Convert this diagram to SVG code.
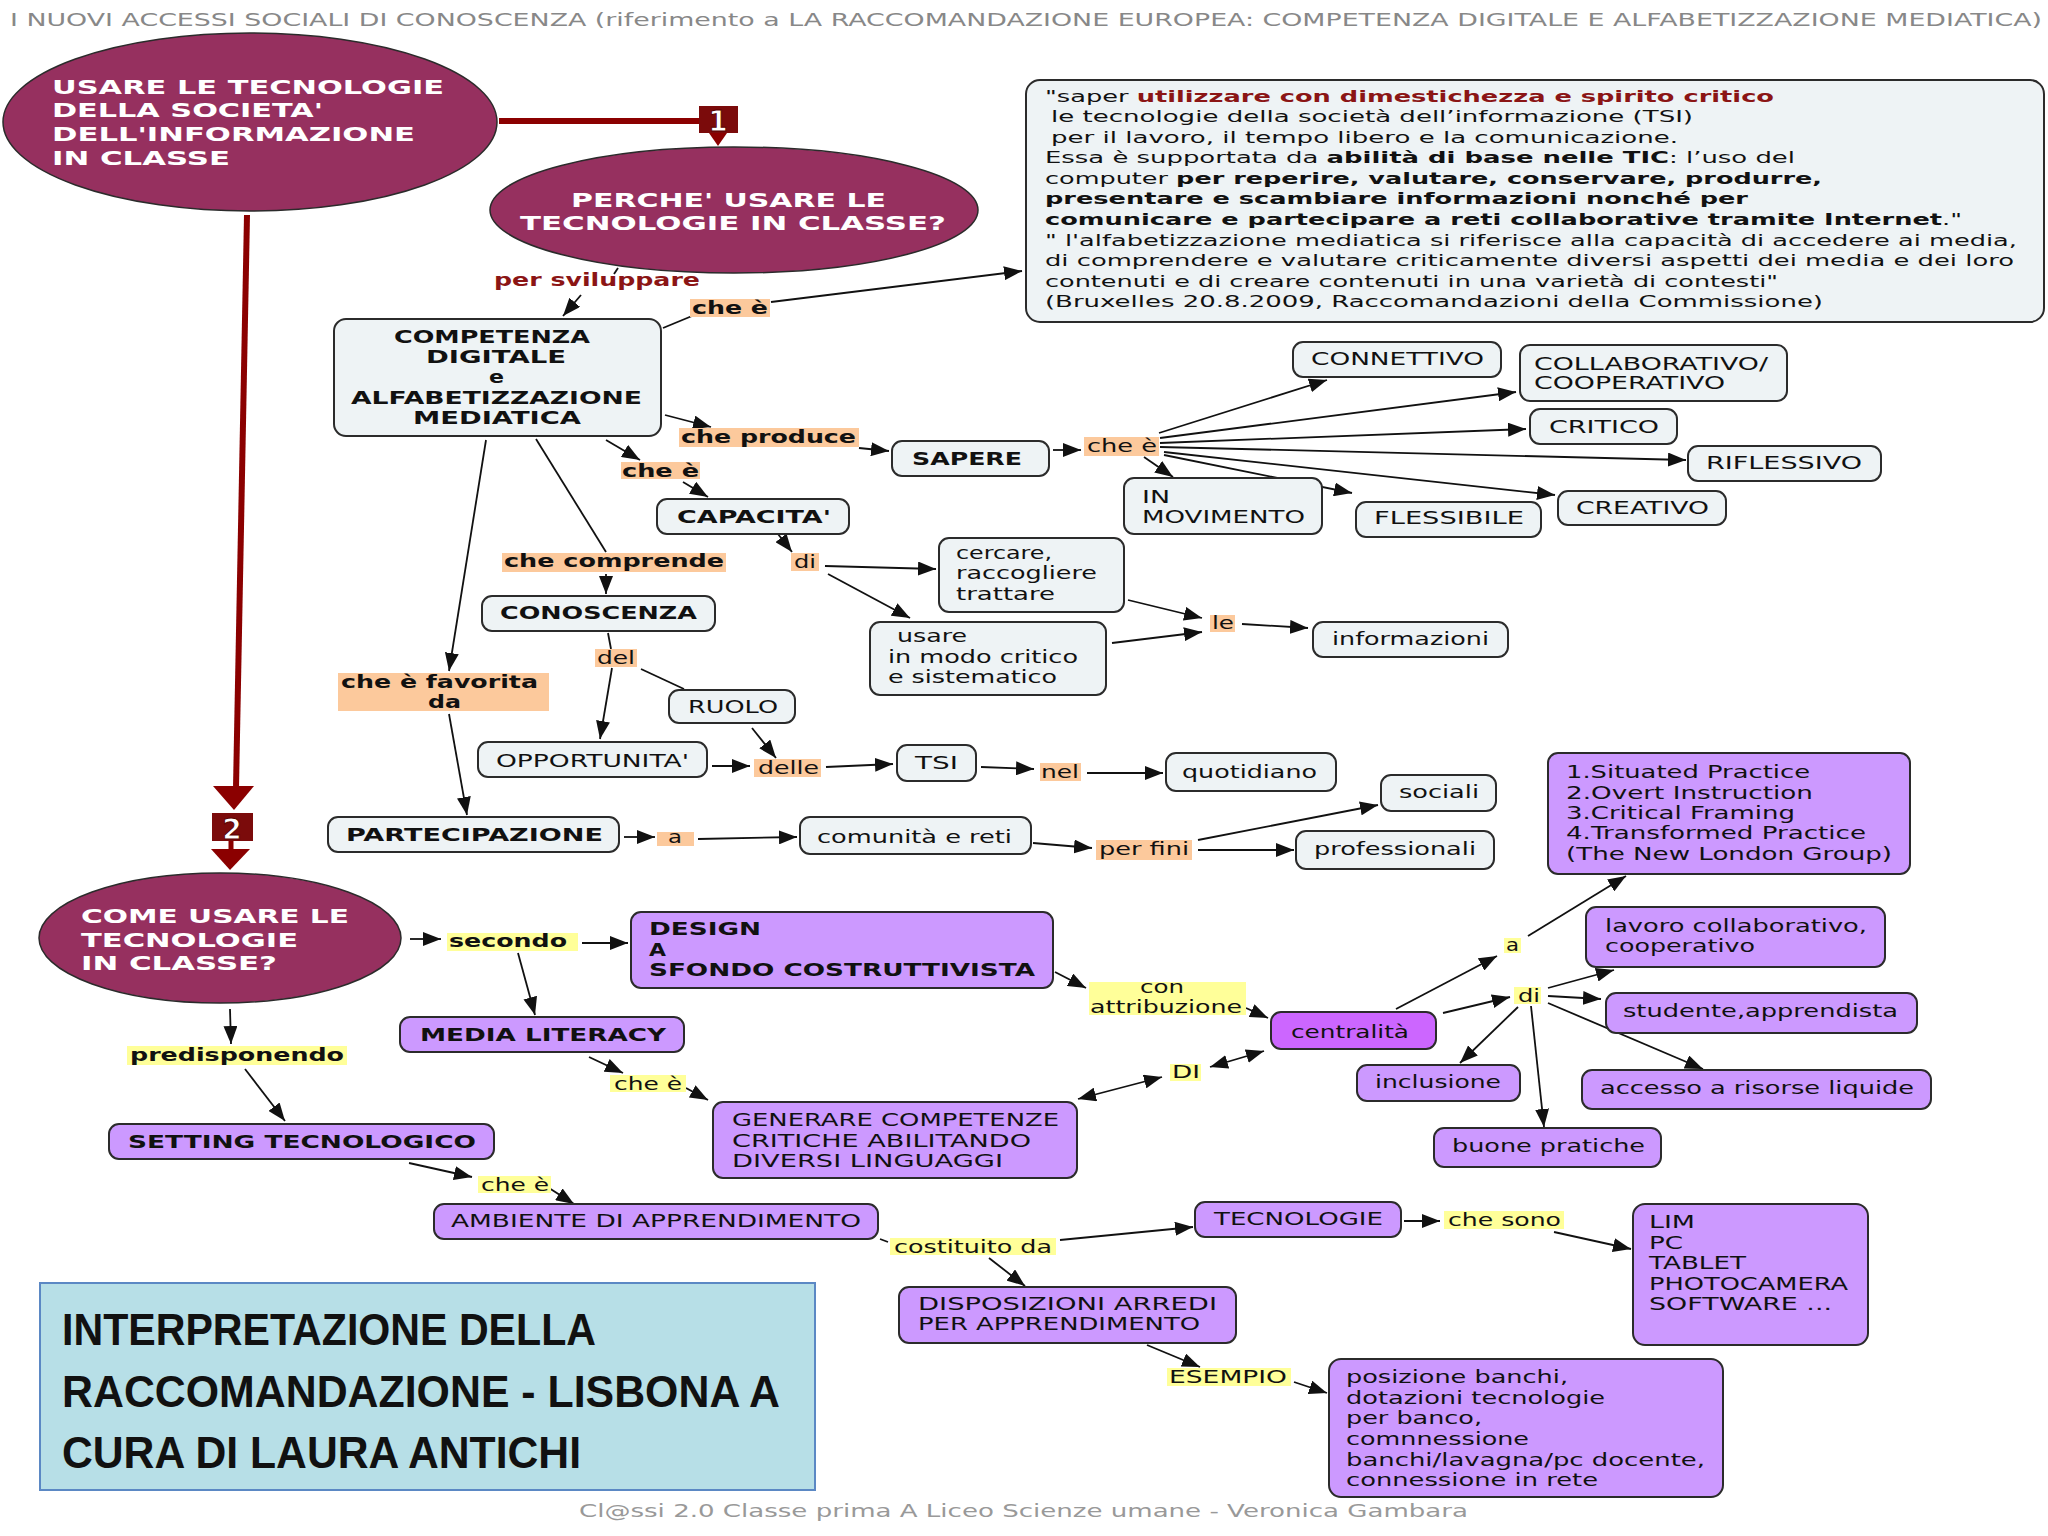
<svg xmlns="http://www.w3.org/2000/svg" width="2048" height="1536" viewBox="0 0 2048 1536">
<style>
text{font-family:"DejaVu Sans",Verdana,sans-serif;font-size:17px;fill:#111}
.b{font-weight:bold}
.w{fill:#fff;font-weight:bold;font-size:20px}
.lt{fill:#eef3f5;stroke:#2b2b2b;stroke-width:2}
.pu{fill:#cc99ff;stroke:#2b2b2b;stroke-width:2}
.pc{fill:#cc66ff;stroke:#2b2b2b;stroke-width:2}
.el{fill:#96305f;stroke:#2b2b2b;stroke-width:1.5}
.or{fill:#fcc99c}
.ye{fill:#ffff99}
.c{stroke:#111;stroke-width:1.8;fill:none;marker-end:url(#ah)}
.d{stroke:#111;stroke-width:1.8;fill:none;marker-end:url(#ah);marker-start:url(#ah)}
.l{stroke:#111;stroke-width:1.8;fill:none}
.red{stroke:#8b0000;stroke-width:6;fill:none}
.q{font-size:16.5px}
</style>
<defs>
<marker id="ah" markerUnits="userSpaceOnUse" markerWidth="18" markerHeight="14" refX="18" refY="7" orient="auto-start-reverse">
<path d="M0,0 L18,7 L0,14 z" fill="#111"/>
</marker>
</defs>
<rect width="2048" height="1536" fill="#fff"/>
<text x="10" y="26" textLength="2032" lengthAdjust="spacingAndGlyphs" style="fill:#888;font-size:17px">I NUOVI ACCESSI SOCIALI DI CONOSCENZA (riferimento a LA RACCOMANDAZIONE EUROPEA: COMPETENZA DIGITALE E ALFABETIZZAZIONE MEDIATICA)</text>

<g id="connectors">
<path class="red" d="M499,121 H702"/>
<polygon points="709,133 727,133 718,146" fill="#8b0000"/>
<path class="red" d="M247,215 L236,788"/>
<polygon points="213,786 254,786 234,810" fill="#8b0000"/>
<path class="red" d="M231,841 V851" style="stroke-width:5"/>
<polygon points="211,849 250,849 230,870" fill="#8b0000"/>
<line class="l" x1="618" y1="268" x2="614" y2="274"/>
<line class="c" x1="581" y1="295" x2="563" y2="316"/>
<line class="l" x1="663" y1="328" x2="692" y2="316"/>
<line class="c" x1="771" y1="302" x2="1022" y2="271"/>
<line class="c" x1="665" y1="415" x2="711" y2="427"/>
<line class="c" x1="859" y1="448" x2="889" y2="451"/>
<line class="c" x1="606" y1="440" x2="640" y2="460"/>
<line class="c" x1="683" y1="482" x2="708" y2="497"/>
<line class="c" x1="778" y1="534" x2="792" y2="552"/>
<line class="c" x1="825" y1="566" x2="936" y2="569"/>
<line class="c" x1="828" y1="574" x2="910" y2="618"/>
<line class="c" x1="1128" y1="600" x2="1202" y2="618"/>
<line class="c" x1="1112" y1="643" x2="1202" y2="632"/>
<line class="c" x1="1242" y1="624" x2="1308" y2="628"/>
<line class="c" x1="1053" y1="450" x2="1081" y2="450"/>
<line class="c" x1="1159" y1="433" x2="1327" y2="380"/>
<line class="c" x1="1160" y1="438" x2="1516" y2="392"/>
<line class="c" x1="1160" y1="443" x2="1526" y2="429"/>
<line class="c" x1="1160" y1="447" x2="1686" y2="460"/>
<line class="c" x1="1164" y1="452" x2="1555" y2="495"/>
<line class="c" x1="1144" y1="457" x2="1173" y2="477"/>
<line class="c" x1="1164" y1="455" x2="1352" y2="493"/>
<line class="l" x1="536" y1="439" x2="606" y2="552"/>
<line class="c" x1="606" y1="574" x2="606" y2="594"/>
<line class="l" x1="608" y1="633" x2="611" y2="649"/>
<line class="l" x1="641" y1="669" x2="684" y2="689"/>
<line class="c" x1="612" y1="668" x2="600" y2="739"/>
<line class="c" x1="486" y1="440" x2="449" y2="671"/>
<line class="c" x1="449" y1="714" x2="467" y2="815"/>
<line class="c" x1="712" y1="766" x2="750" y2="766"/>
<line class="c" x1="752" y1="728" x2="776" y2="758"/>
<line class="c" x1="826" y1="767" x2="893" y2="764"/>
<line class="c" x1="981" y1="767" x2="1034" y2="769"/>
<line class="c" x1="1087" y1="773" x2="1163" y2="773"/>
<line class="c" x1="624" y1="837" x2="655" y2="837"/>
<line class="c" x1="698" y1="839" x2="797" y2="837"/>
<line class="c" x1="1033" y1="843" x2="1092" y2="848"/>
<line class="c" x1="1198" y1="840" x2="1378" y2="805"/>
<line class="c" x1="1198" y1="850" x2="1294" y2="850"/>
<line class="c" x1="410" y1="939" x2="441" y2="939"/>
<line class="c" x1="582" y1="943" x2="628" y2="943"/>
<line class="c" x1="518" y1="953" x2="535" y2="1015"/>
<line class="c" x1="589" y1="1057" x2="623" y2="1073"/>
<line class="c" x1="686" y1="1088" x2="708" y2="1100"/>
<line class="c" x1="230" y1="1009" x2="231" y2="1044"/>
<line class="c" x1="245" y1="1069" x2="285" y2="1121"/>
<line class="c" x1="409" y1="1163" x2="472" y2="1177"/>
<line class="c" x1="549" y1="1188" x2="574" y2="1204"/>
<line class="c" x1="1055" y1="972" x2="1086" y2="988"/>
<line class="c" x1="1246" y1="1008" x2="1268" y2="1018"/>
<line class="d" x1="1210" y1="1067" x2="1264" y2="1051"/>
<line class="d" x1="1162" y1="1077" x2="1078" y2="1099"/>
<line class="c" x1="1396" y1="1009" x2="1497" y2="956"/>
<line class="c" x1="1528" y1="936" x2="1626" y2="876"/>
<line class="c" x1="1443" y1="1013" x2="1510" y2="997"/>
<line class="c" x1="1548" y1="988" x2="1614" y2="970"/>
<line class="c" x1="1548" y1="996" x2="1601" y2="999"/>
<line class="c" x1="1548" y1="1003" x2="1703" y2="1069"/>
<line class="c" x1="1518" y1="1007" x2="1460" y2="1063"/>
<line class="c" x1="1531" y1="1006" x2="1544" y2="1127"/>
<line class="l" x1="880" y1="1239" x2="888" y2="1242"/>
<line class="c" x1="1060" y1="1240" x2="1193" y2="1227"/>
<line class="c" x1="989" y1="1258" x2="1025" y2="1286"/>
<line class="c" x1="1404" y1="1221" x2="1440" y2="1221"/>
<line class="c" x1="1554" y1="1232" x2="1631" y2="1249"/>
<line class="c" x1="1147" y1="1345" x2="1200" y2="1367"/>
<line class="c" x1="1294" y1="1382" x2="1327" y2="1393"/>
</g>

<g id="n-usare">
<ellipse class="el" cx="250" cy="122" rx="247" ry="89"/>
<text class="w" x="52" y="94" textLength="392" lengthAdjust="spacingAndGlyphs">USARE LE TECNOLOGIE</text>
<text class="w" x="52" y="117" textLength="271" lengthAdjust="spacingAndGlyphs">DELLA SOCIETA'</text>
<text class="w" x="52" y="141" textLength="363" lengthAdjust="spacingAndGlyphs">DELL'INFORMAZIONE</text>
<text class="w" x="52" y="165" textLength="178" lengthAdjust="spacingAndGlyphs">IN CLASSE</text>
</g>
<g id="n-num1">
<rect x="699" y="106" width="39" height="27" fill="#7b0b0b"/>
<text x="718" y="131" text-anchor="middle" style="fill:#fff;font-weight:bold;font-size:28px;stroke:#5a0000;stroke-width:1">1</text>
</g>
<g id="n-num2">
<rect x="212" y="813" width="41" height="28" fill="#7b0b0b"/>
<text x="232" y="839" text-anchor="middle" style="fill:#fff;font-weight:bold;font-size:28px;stroke:#5a0000;stroke-width:1">2</text>
</g>
<g id="n-perche">
<ellipse class="el" cx="734" cy="210" rx="244" ry="63"/>
<text class="w" x="571" y="207" textLength="315" lengthAdjust="spacingAndGlyphs">PERCHE' USARE LE</text>
<text class="w" x="520" y="230" textLength="426" lengthAdjust="spacingAndGlyphs">TECNOLOGIE IN CLASSE?</text>
</g>
<g id="n-quote">
<rect class="lt" x="1026" y="80" width="1018" height="242" rx="14"/>
<text class="q" x="1045" y="102" textLength="729" lengthAdjust="spacingAndGlyphs">"saper <tspan class="b" style="fill:#8b1515">utilizzare con dimestichezza e spirito critico</tspan></text>
<text class="q" x="1051" y="122" textLength="642" lengthAdjust="spacingAndGlyphs">le tecnologie della società dell’informazione (TSI)</text>
<text class="q" x="1051" y="143" textLength="627" lengthAdjust="spacingAndGlyphs">per il lavoro, il tempo libero e la comunicazione.</text>
<text class="q" x="1045" y="163" textLength="750" lengthAdjust="spacingAndGlyphs">Essa è supportata da <tspan class="b">abilità di base nelle TIC</tspan>: l’uso del</text>
<text class="q" x="1045" y="184" textLength="777" lengthAdjust="spacingAndGlyphs">computer <tspan class="b">per reperire, valutare, conservare, produrre,</tspan></text>
<text class="q b" x="1045" y="204" textLength="703" lengthAdjust="spacingAndGlyphs">presentare e scambiare informazioni nonché per</text>
<text class="q" x="1045" y="225" textLength="917" lengthAdjust="spacingAndGlyphs"><tspan class="b">comunicare e partecipare a reti collaborative tramite Internet</tspan>."</text>
<text class="q" x="1045" y="246" textLength="972" lengthAdjust="spacingAndGlyphs">" l'alfabetizzazione mediatica si riferisce alla capacità di accedere ai media,</text>
<text class="q" x="1045" y="266" textLength="969" lengthAdjust="spacingAndGlyphs">di comprendere e valutare criticamente diversi aspetti dei media e dei loro</text>
<text class="q" x="1045" y="287" textLength="733" lengthAdjust="spacingAndGlyphs">contenuti e di creare contenuti in una varietà di contesti"</text>
<text class="q" x="1045" y="307" textLength="778" lengthAdjust="spacingAndGlyphs">(Bruxelles 20.8.2009, Raccomandazioni della Commissione)</text>
</g>
<g id="l-persviluppare">
<text class="b" x="494" y="286" textLength="206" lengthAdjust="spacingAndGlyphs" style="fill:#8b1515">per sviluppare</text>
</g>
<g id="l-cheE1">
<rect class="or" x="690" y="299" width="80" height="18"/>
<text class="b" x="692" y="314" textLength="76" lengthAdjust="spacingAndGlyphs">che è</text>
</g>
<g id="n-competenza">
<rect class="lt" x="334" y="319" width="327" height="117" rx="12"/>
<text class="b" x="394" y="343" textLength="196" lengthAdjust="spacingAndGlyphs">COMPETENZA</text>
<text class="b" x="426" y="363" textLength="140" lengthAdjust="spacingAndGlyphs">DIGITALE</text>
<text class="b" x="489" y="383" textLength="15" lengthAdjust="spacingAndGlyphs">e</text>
<text class="b" x="351" y="404" textLength="291" lengthAdjust="spacingAndGlyphs">ALFABETIZZAZIONE</text>
<text class="b" x="413" y="424" textLength="168" lengthAdjust="spacingAndGlyphs">MEDIATICA</text>
</g>
<g id="l-cheproduce">
<rect class="or" x="679" y="428" width="180" height="19"/>
<text class="b" x="681" y="443" textLength="175" lengthAdjust="spacingAndGlyphs">che produce</text>
</g>
<g id="n-sapere">
<rect class="lt" x="892" y="441" width="157" height="35" rx="10"/>
<text class="b" x="912" y="465" textLength="110" lengthAdjust="spacingAndGlyphs">SAPERE</text>
</g>
<g id="l-cheE2">
<rect class="or" x="621" y="462" width="79" height="17"/>
<text class="b" x="622" y="477" textLength="77" lengthAdjust="spacingAndGlyphs">che è</text>
</g>
<g id="n-capacita">
<rect class="lt" x="657" y="499" width="192" height="35" rx="10"/>
<text class="b" x="677" y="523" textLength="154" lengthAdjust="spacingAndGlyphs">CAPACITA'</text>
</g>
<g id="l-cheE3">
<rect class="or" x="1084" y="437" width="75" height="19"/>
<text x="1087" y="452" textLength="70" lengthAdjust="spacingAndGlyphs">che è</text>
</g>
<g id="n-connettivo">
<rect class="lt" x="1293" y="342" width="208" height="35" rx="10"/>
<text x="1311" y="365" textLength="173" lengthAdjust="spacingAndGlyphs">CONNETTIVO</text>
</g>
<g id="n-collaborativo">
<rect class="lt" x="1520" y="345" width="267" height="56" rx="10"/>
<text x="1534" y="370" textLength="234" lengthAdjust="spacingAndGlyphs">COLLABORATIVO/</text>
<text x="1534" y="389" textLength="191" lengthAdjust="spacingAndGlyphs">COOPERATIVO</text>
</g>
<g id="n-critico">
<rect class="lt" x="1530" y="409" width="147" height="35" rx="10"/>
<text x="1549" y="433" textLength="110" lengthAdjust="spacingAndGlyphs">CRITICO</text>
</g>
<g id="n-riflessivo">
<rect class="lt" x="1688" y="446" width="193" height="35" rx="10"/>
<text x="1706" y="469" textLength="156" lengthAdjust="spacingAndGlyphs">RIFLESSIVO</text>
</g>
<g id="n-creativo">
<rect class="lt" x="1558" y="491" width="168" height="34" rx="10"/>
<text x="1576" y="514" textLength="133" lengthAdjust="spacingAndGlyphs">CREATIVO</text>
</g>
<g id="n-flessibile">
<rect class="lt" x="1356" y="502" width="185" height="35" rx="10"/>
<text x="1374" y="524" textLength="150" lengthAdjust="spacingAndGlyphs">FLESSIBILE</text>
</g>
<g id="n-inmovimento">
<rect class="lt" x="1124" y="478" width="198" height="56" rx="10"/>
<text x="1142" y="503" textLength="28" lengthAdjust="spacingAndGlyphs">IN</text>
<text x="1142" y="523" textLength="163" lengthAdjust="spacingAndGlyphs">MOVIMENTO</text>
</g>
<g id="l-di1">
<rect class="or" x="791" y="553" width="28" height="18"/>
<text x="794" y="568" textLength="22" lengthAdjust="spacingAndGlyphs">di</text>
</g>
<g id="n-cercare">
<rect class="lt" x="939" y="538" width="185" height="74" rx="10"/>
<text x="956" y="559" textLength="96" lengthAdjust="spacingAndGlyphs">cercare,</text>
<text x="956" y="579" textLength="141" lengthAdjust="spacingAndGlyphs">raccogliere</text>
<text x="956" y="600" textLength="99" lengthAdjust="spacingAndGlyphs">trattare</text>
</g>
<g id="n-usare2">
<rect class="lt" x="870" y="622" width="236" height="73" rx="10"/>
<text x="897" y="642" textLength="70" lengthAdjust="spacingAndGlyphs">usare</text>
<text x="888" y="663" textLength="190" lengthAdjust="spacingAndGlyphs">in modo critico</text>
<text x="888" y="683" textLength="169" lengthAdjust="spacingAndGlyphs">e sistematico</text>
</g>
<g id="l-le">
<rect class="or" x="1210" y="615" width="25" height="17"/>
<text x="1212" y="629" textLength="22" lengthAdjust="spacingAndGlyphs">le</text>
</g>
<g id="n-informazioni">
<rect class="lt" x="1313" y="622" width="195" height="35" rx="10"/>
<text x="1332" y="645" textLength="157" lengthAdjust="spacingAndGlyphs">informazioni</text>
</g>
<g id="l-checomprende">
<rect class="or" x="502" y="553" width="224" height="19"/>
<text class="b" x="504" y="567" textLength="220" lengthAdjust="spacingAndGlyphs">che comprende</text>
</g>
<g id="n-conoscenza">
<rect class="lt" x="482" y="596" width="233" height="35" rx="10"/>
<text class="b" x="500" y="619" textLength="197" lengthAdjust="spacingAndGlyphs">CONOSCENZA</text>
</g>
<g id="l-del">
<rect class="or" x="595" y="649" width="42" height="18"/>
<text x="597" y="664" textLength="38" lengthAdjust="spacingAndGlyphs">del</text>
</g>
<g id="l-favorita">
<rect class="or" x="338" y="673" width="211" height="38"/>
<text class="b" x="341" y="688" textLength="197" lengthAdjust="spacingAndGlyphs">che è favorita</text>
<text class="b" x="428" y="708" textLength="33" lengthAdjust="spacingAndGlyphs">da</text>
</g>
<g id="n-ruolo">
<rect class="lt" x="669" y="690" width="126" height="33" rx="10"/>
<text x="688" y="713" textLength="90" lengthAdjust="spacingAndGlyphs">RUOLO</text>
</g>
<g id="n-opportunita">
<rect class="lt" x="478" y="742" width="229" height="35" rx="10"/>
<text x="496" y="767" textLength="193" lengthAdjust="spacingAndGlyphs">OPPORTUNITA'</text>
</g>
<g id="l-delle">
<rect class="or" x="754" y="759" width="67" height="18"/>
<text x="758" y="774" textLength="61" lengthAdjust="spacingAndGlyphs">delle</text>
</g>
<g id="n-tsi">
<rect class="lt" x="897" y="745" width="79" height="36" rx="10"/>
<text x="915" y="769" textLength="43" lengthAdjust="spacingAndGlyphs">TSI</text>
</g>
<g id="l-nel">
<rect class="or" x="1040" y="763" width="41" height="18"/>
<text x="1041" y="778" textLength="38" lengthAdjust="spacingAndGlyphs">nel</text>
</g>
<g id="n-quotidiano">
<rect class="lt" x="1166" y="753" width="170" height="38" rx="10"/>
<text x="1182" y="778" textLength="135" lengthAdjust="spacingAndGlyphs">quotidiano</text>
</g>
<g id="n-partecipazione">
<rect class="lt" x="328" y="817" width="291" height="35" rx="10"/>
<text class="b" x="346" y="841" textLength="257" lengthAdjust="spacingAndGlyphs">PARTECIPAZIONE</text>
</g>
<g id="l-a1">
<rect class="or" x="657" y="832" width="37" height="14"/>
<text x="668" y="843" textLength="14" lengthAdjust="spacingAndGlyphs">a</text>
</g>
<g id="n-comunita">
<rect class="lt" x="800" y="817" width="231" height="37" rx="10"/>
<text x="817" y="843" textLength="195" lengthAdjust="spacingAndGlyphs">comunità e reti</text>
</g>
<g id="l-perfini">
<rect class="or" x="1096" y="840" width="96" height="20"/>
<text x="1099" y="855" textLength="90" lengthAdjust="spacingAndGlyphs">per fini</text>
</g>
<g id="n-sociali">
<rect class="lt" x="1381" y="775" width="115" height="36" rx="10"/>
<text x="1399" y="798" textLength="80" lengthAdjust="spacingAndGlyphs">sociali</text>
</g>
<g id="n-professionali">
<rect class="lt" x="1296" y="831" width="198" height="38" rx="10"/>
<text x="1314" y="855" textLength="162" lengthAdjust="spacingAndGlyphs">professionali</text>
</g>
<g id="n-situated">
<rect class="pu" x="1548" y="753" width="362" height="121" rx="10"/>
<text x="1566" y="778" textLength="244" lengthAdjust="spacingAndGlyphs">1.Situated Practice</text>
<text x="1566" y="799" textLength="247" lengthAdjust="spacingAndGlyphs">2.Overt Instruction</text>
<text x="1566" y="819" textLength="229" lengthAdjust="spacingAndGlyphs">3.Critical Framing</text>
<text x="1566" y="839" textLength="300" lengthAdjust="spacingAndGlyphs">4.Transformed Practice</text>
<text x="1566" y="860" textLength="326" lengthAdjust="spacingAndGlyphs">(The New London Group)</text>
</g>
<g id="n-come">
<ellipse class="el" cx="220" cy="938" rx="181" ry="65"/>
<text class="w" x="81" y="923" textLength="268" lengthAdjust="spacingAndGlyphs">COME USARE LE</text>
<text class="w" x="81" y="947" textLength="217" lengthAdjust="spacingAndGlyphs">TECNOLOGIE</text>
<text class="w" x="81" y="970" textLength="196" lengthAdjust="spacingAndGlyphs">IN CLASSE?</text>
</g>
<g id="l-secondo">
<rect class="ye" x="447" y="933" width="131" height="18"/>
<text class="b" x="449" y="947" textLength="118" lengthAdjust="spacingAndGlyphs">secondo</text>
</g>
<g id="n-design">
<rect class="pu" x="631" y="912" width="422" height="76" rx="10"/>
<text class="b" x="649" y="935" textLength="112" lengthAdjust="spacingAndGlyphs">DESIGN</text>
<text class="b" x="649" y="956" textLength="17" lengthAdjust="spacingAndGlyphs">A</text>
<text class="b" x="649" y="976" textLength="386" lengthAdjust="spacingAndGlyphs">SFONDO COSTRUTTIVISTA</text>
</g>
<g id="n-media">
<rect class="pu" x="400" y="1017" width="284" height="35" rx="10"/>
<text class="b" x="420" y="1041" textLength="246" lengthAdjust="spacingAndGlyphs">MEDIA LITERACY</text>
</g>
<g id="l-cheE4">
<rect class="ye" x="610" y="1075" width="76" height="17"/>
<text x="614" y="1090" textLength="68" lengthAdjust="spacingAndGlyphs">che è</text>
</g>
<g id="n-generare">
<rect class="pu" x="713" y="1102" width="364" height="76" rx="10"/>
<text x="732" y="1126" textLength="327" lengthAdjust="spacingAndGlyphs">GENERARE COMPETENZE</text>
<text x="732" y="1147" textLength="299" lengthAdjust="spacingAndGlyphs">CRITICHE ABILITANDO</text>
<text x="732" y="1167" textLength="271" lengthAdjust="spacingAndGlyphs">DIVERSI LINGUAGGI</text>
</g>
<g id="l-predisponendo">
<rect class="ye" x="127" y="1046" width="220" height="19"/>
<text class="b" x="130" y="1061" textLength="214" lengthAdjust="spacingAndGlyphs">predisponendo</text>
</g>
<g id="n-setting">
<rect class="pu" x="109" y="1124" width="385" height="35" rx="10"/>
<text class="b" x="128" y="1148" textLength="348" lengthAdjust="spacingAndGlyphs">SETTING TECNOLOGICO</text>
</g>
<g id="l-cheE5">
<rect class="ye" x="478" y="1176" width="73" height="17"/>
<text x="481" y="1191" textLength="68" lengthAdjust="spacingAndGlyphs">che è</text>
</g>
<g id="n-ambiente">
<rect class="pu" x="434" y="1204" width="444" height="35" rx="10"/>
<text x="451" y="1227" textLength="410" lengthAdjust="spacingAndGlyphs">AMBIENTE DI APPRENDIMENTO</text>
</g>
<g id="l-conattribuzione">
<rect class="ye" x="1089" y="982" width="157" height="33"/>
<text x="1140" y="993" textLength="44" lengthAdjust="spacingAndGlyphs">con</text>
<text x="1090" y="1013" textLength="152" lengthAdjust="spacingAndGlyphs">attribuzione</text>
</g>
<g id="n-centralita">
<rect class="pc" x="1271" y="1012" width="165" height="37" rx="10"/>
<text x="1291" y="1038" textLength="118" lengthAdjust="spacingAndGlyphs">centralità</text>
</g>
<g id="l-DI">
<rect class="ye" x="1170" y="1064" width="31" height="17"/>
<text x="1172" y="1078" textLength="28" lengthAdjust="spacingAndGlyphs">DI</text>
</g>
<g id="l-a2">
<rect class="ye" x="1504" y="938" width="17" height="15"/>
<text x="1506" y="951" textLength="13" lengthAdjust="spacingAndGlyphs">a</text>
</g>
<g id="l-di2">
<rect class="ye" x="1514" y="987" width="27" height="17"/>
<text x="1518" y="1002" textLength="22" lengthAdjust="spacingAndGlyphs">di</text>
</g>
<g id="n-lavoro">
<rect class="pu" x="1586" y="907" width="299" height="60" rx="10"/>
<text x="1605" y="932" textLength="262" lengthAdjust="spacingAndGlyphs">lavoro collaborativo,</text>
<text x="1605" y="952" textLength="150" lengthAdjust="spacingAndGlyphs">cooperativo</text>
</g>
<g id="n-studente">
<rect class="pu" x="1606" y="993" width="311" height="40" rx="10"/>
<text x="1623" y="1017" textLength="275" lengthAdjust="spacingAndGlyphs">studente,apprendista</text>
</g>
<g id="n-accesso">
<rect class="pu" x="1582" y="1070" width="349" height="39" rx="10"/>
<text x="1600" y="1094" textLength="314" lengthAdjust="spacingAndGlyphs">accesso a risorse liquide</text>
</g>
<g id="n-inclusione">
<rect class="pu" x="1357" y="1065" width="163" height="36" rx="10"/>
<text x="1375" y="1088" textLength="126" lengthAdjust="spacingAndGlyphs">inclusione</text>
</g>
<g id="n-buone">
<rect class="pu" x="1434" y="1128" width="227" height="39" rx="10"/>
<text x="1452" y="1152" textLength="193" lengthAdjust="spacingAndGlyphs">buone pratiche</text>
</g>
<g id="l-costituito">
<rect class="ye" x="890" y="1238" width="166" height="17"/>
<text x="894" y="1253" textLength="158" lengthAdjust="spacingAndGlyphs">costituito da</text>
</g>
<g id="n-tecnologie">
<rect class="pu" x="1195" y="1202" width="206" height="35" rx="10"/>
<text x="1214" y="1225" textLength="169" lengthAdjust="spacingAndGlyphs">TECNOLOGIE</text>
</g>
<g id="l-chesono">
<rect class="ye" x="1444" y="1211" width="120" height="18"/>
<text x="1448" y="1226" textLength="113" lengthAdjust="spacingAndGlyphs">che sono</text>
</g>
<g id="n-lim">
<rect class="pu" x="1633" y="1204" width="235" height="141" rx="12"/>
<text x="1649" y="1228" textLength="46" lengthAdjust="spacingAndGlyphs">LIM</text>
<text x="1649" y="1249" textLength="34" lengthAdjust="spacingAndGlyphs">PC</text>
<text x="1649" y="1269" textLength="97" lengthAdjust="spacingAndGlyphs">TABLET</text>
<text x="1649" y="1290" textLength="199" lengthAdjust="spacingAndGlyphs">PHOTOCAMERA</text>
<text x="1649" y="1310" textLength="183" lengthAdjust="spacingAndGlyphs">SOFTWARE ...</text>
</g>
<g id="n-disposizioni">
<rect class="pu" x="899" y="1287" width="337" height="56" rx="10"/>
<text x="918" y="1310" textLength="299" lengthAdjust="spacingAndGlyphs">DISPOSIZIONI ARREDI</text>
<text x="918" y="1330" textLength="282" lengthAdjust="spacingAndGlyphs">PER APPRENDIMENTO</text>
</g>
<g id="l-esempio">
<rect class="ye" x="1167" y="1368" width="124" height="18"/>
<text x="1169" y="1383" textLength="118" lengthAdjust="spacingAndGlyphs">ESEMPIO</text>
</g>
<g id="n-posizione">
<rect class="pu" x="1329" y="1359" width="394" height="138" rx="12"/>
<text x="1346" y="1383" textLength="222" lengthAdjust="spacingAndGlyphs">posizione banchi,</text>
<text x="1346" y="1404" textLength="259" lengthAdjust="spacingAndGlyphs">dotazioni tecnologie</text>
<text x="1346" y="1424" textLength="136" lengthAdjust="spacingAndGlyphs">per banco,</text>
<text x="1346" y="1445" textLength="183" lengthAdjust="spacingAndGlyphs">comnnessione</text>
<text x="1346" y="1466" textLength="359" lengthAdjust="spacingAndGlyphs">banchi/lavagna/pc docente,</text>
<text x="1346" y="1486" textLength="252" lengthAdjust="spacingAndGlyphs">connessione in rete</text>
</g>
<g id="n-titlebox">
<rect x="40" y="1283" width="775" height="207" fill="#b7dfe7" stroke="#5b88c4" stroke-width="2"/>
<text x="62" y="1345" textLength="534" lengthAdjust="spacingAndGlyphs" style="font-family:'Liberation Sans',Arial,sans-serif;font-weight:bold;font-size:44px">INTERPRETAZIONE DELLA</text>
<text x="62" y="1407" textLength="718" lengthAdjust="spacingAndGlyphs" style="font-family:'Liberation Sans',Arial,sans-serif;font-weight:bold;font-size:44px">RACCOMANDAZIONE - LISBONA A</text>
<text x="62" y="1468" textLength="519" lengthAdjust="spacingAndGlyphs" style="font-family:'Liberation Sans',Arial,sans-serif;font-weight:bold;font-size:44px">CURA DI LAURA ANTICHI</text>
</g>
<text x="579" y="1517" textLength="889" lengthAdjust="spacingAndGlyphs" style="fill:#999;font-size:18px">Cl@ssi 2.0 Classe prima A Liceo Scienze umane - Veronica Gambara</text>
</svg>
